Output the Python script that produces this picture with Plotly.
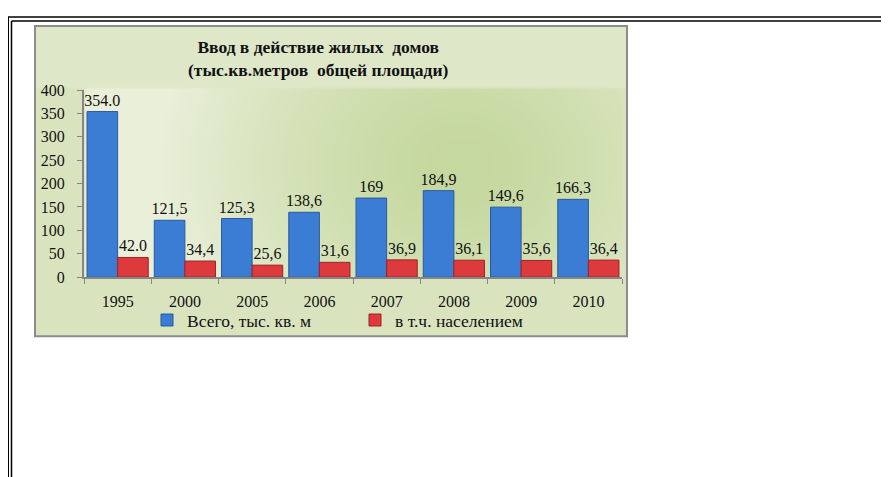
import base64
import struct
import zlib

import numpy as np
import plotly.graph_objects as go

# data
years = ["1995", "2000", "2005", "2006", "2007", "2008", "2009", "2010"]
total = [354.0, 121.5, 125.3, 138.6, 169, 184.9, 149.6, 166.3]
total_labels = ["354.0", "121,5", "125,3", "138,6", "169", "184,9", "149,6", "166,3"]
people = [42.0, 34.4, 25.6, 31.6, 36.9, 36.1, 35.6, 36.4]
people_labels = ["42.0", "34,4", "25,6", "31,6", "36,9", "36,1", "35,6", "36,4"]
y_ticks = [0, 50, 100, 150, 200, 250, 300, 350, 400]

# positions below are in screenshot pixels; the figure lands at x+8, y+16
# and comes out squeezed a little vertically, so map through that
OX, OY, SY = 8, 16, 0.964
W, H = 873, 478
FONT = "Liberation Serif, Times New Roman, serif"


def px(x):
    return (x - OX) / W


def py(y):
    return 1 - (y - OY) / SY / H


# chart box background (uniform light green + radial gradient in plot area)
box = (35, 26, 627, 336)
plot_box = (84, 88, 622, 277)
s = 2
iw, ih = (box[2] - box[0]) // s, (box[3] - box[1]) // s
xs = np.arange(iw) * s + box[0]
ys = np.arange(ih) * s + box[1]
X, Y = np.meshgrid(xs, ys)
img = np.tile(np.array([217, 228, 190], float), (ih, iw, 1))
inside = (X >= plot_box[0]) & (X <= plot_box[2]) & (Y >= plot_box[1]) & (Y <= plot_box[3])
d = np.sqrt(((X - 460) / 300.0) ** 2 + ((Y - 165) / 250.0) ** 2)
t = np.clip(d, 0, 1)[..., None] ** 1.4
centre = np.array([197, 216, 158], float)
edge = np.array([233, 239, 217], float)
grad = centre * (1 - t) + edge * t
img = np.where(inside[..., None], grad, img)
img = np.where((Y < plot_box[1])[..., None], np.array([222, 232, 201], float), img)
img = img.astype(np.uint8)


def to_png(arr):
    h, w, _ = arr.shape
    raw = b"".join(b"\x00" + arr[r].tobytes() for r in range(h))

    def chunk(tag, data):
        c = struct.pack(">I", len(data)) + tag + data
        return c + struct.pack(">I", zlib.crc32(tag + data) & 0xFFFFFFFF)

    return (b"\x89PNG\r\n\x1a\n" + chunk(b"IHDR", struct.pack(">IIBBBBB", w, h, 8, 2, 0, 0, 0))
            + chunk(b"IDAT", zlib.compress(raw, 9)) + chunk(b"IEND", b""))


src = "data:image/png;base64," + base64.b64encode(to_png(img)).decode()

fig = go.Figure()
fig.add_trace(go.Bar(
    x=years, y=total, name="Всего, тыс. кв. м",
    text=total_labels, textposition="outside", cliponaxis=False, constraintext="none",
    marker=dict(color="#3b7dd4", line=dict(color="#2a5a9c", width=1)),
    textfont=dict(family=FONT, size=16, color="#111"),
))
fig.add_trace(go.Bar(
    x=years, y=people, name="в т.ч. населением",
    text=people_labels, textposition="outside", cliponaxis=False, constraintext="none",
    marker=dict(color="#dd3a3d", line=dict(color="#9c2426", width=1)),
    textfont=dict(family=FONT, size=16, color="#111"),
))

shapes = [
    # chart frame
    dict(type="rect", xref="paper", yref="paper", x0=px(box[0]), x1=px(box[2]),
         y0=py(box[3]), y1=py(box[1]), line=dict(color="#8c8c8c", width=2), layer="below"),
    # page double borders
    dict(type="line", xref="paper", yref="paper", x0=0, x1=1, y0=py(17), y1=py(17),
         line=dict(color="#000", width=1.5)),
    dict(type="line", xref="paper", yref="paper", x0=px(11.5), x1=1, y0=py(21), y1=py(21),
         line=dict(color="#000", width=1.5)),
    dict(type="line", xref="paper", yref="paper", x0=0, x1=0, y0=0, y1=py(17),
         line=dict(color="#000", width=2)),
    dict(type="line", xref="paper", yref="paper", x0=px(11.5), x1=px(11.5), y0=0, y1=py(21),
         line=dict(color="#000", width=1.5)),
]

fig.update_layout(
    width=W, height=H,
    margin=dict(l=0, r=0, t=0, b=0),
    paper_bgcolor="white",
    plot_bgcolor="rgba(0,0,0,0)",
    barmode="group",
    bargap=0.09,
    bargroupgap=0,
    font=dict(family=FONT, size=16, color="#111"),
    images=[dict(source=src, xref="paper", yref="paper", x=px(box[0]), y=py(box[1]),
                 sizex=px(box[2]) - px(box[0]), sizey=py(box[1]) - py(box[3]),
                 sizing="stretch", layer="below", xanchor="left", yanchor="top")],
    shapes=shapes,
    annotations=[dict(
        text="<b>Ввод в действие жилых  домов<br>(тыс.кв.метров  общей площади)</b>",
        xref="paper", yref="paper", x=px(318), y=py(58), xanchor="center", yanchor="middle",
        showarrow=False, font=dict(family=FONT, size=17.5, color="#111"), align="center",
    )],
    xaxis=dict(
        domain=[px(84), px(622)],
        showline=True, linecolor="#868686", linewidth=2,
        ticks="outside", tickson="boundaries", ticklen=5, tickcolor="#868686",
        tickfont=dict(size=16), showgrid=False, ticklabelstandoff=9,
    ),
    yaxis=dict(
        domain=[py(277), py(90)],
        range=[0, 400], tickvals=y_ticks,
        showline=True, linecolor="#868686", linewidth=2,
        ticks="outside", ticklen=5, tickcolor="#868686",
        tickfont=dict(size=16), showgrid=False, zeroline=False, ticklabelstandoff=9,
    ),
    legend=dict(
        orientation="h", x=px(147), y=py(320), xanchor="left", yanchor="middle",
        entrywidth=163, entrywidthmode="pixels", bgcolor="rgba(0,0,0,0)",
        font=dict(size=17.5), itemwidth=30,
    ),
)

fig.write_html("out.html")
